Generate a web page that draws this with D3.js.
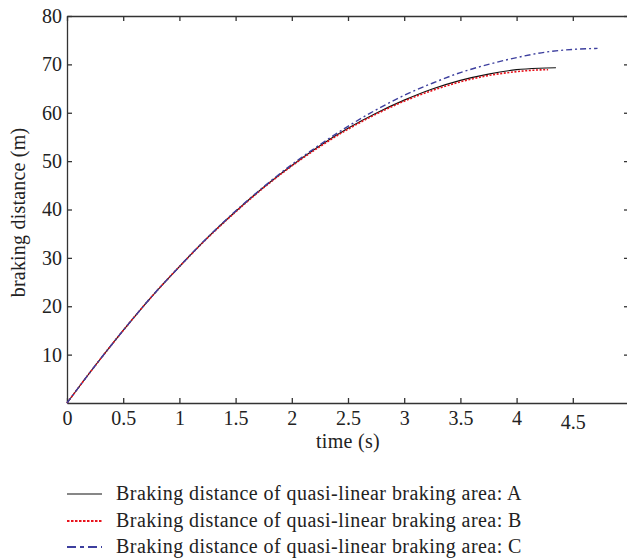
<!DOCTYPE html>
<html>
<head>
<meta charset="utf-8">
<script src="https://cdn.jsdelivr.net/npm/d3@7"></script>
<style>
  html, body { margin: 0; padding: 0; background: #fff; }
  svg { display: block; }
  text { font-family: "Liberation Serif", "DejaVu Serif", serif; fill: #222; }
</style>
</head>
<body>
<div id="chart"></div>
<script>
// ---- data ----
const timeA = [0, 0.25, 0.5, 0.75, 1, 1.25, 1.5, 1.75, 2, 2.25, 2.5, 2.75, 3, 3.25, 3.5, 3.75, 4, 4.2, 4.35];
const distA = [0, 7.7, 15.0, 21.9, 28.2, 34.2, 39.6, 44.6, 49.1, 53.2, 56.8, 59.9, 62.6, 64.9, 66.7, 68.0, 68.9, 69.2, 69.3];

const timeB = [0, 0.25, 0.5, 0.75, 1, 1.25, 1.5, 1.75, 2, 2.25, 2.5, 2.75, 3, 3.25, 3.5, 3.75, 4, 4.15, 4.28];
const distB = [0, 7.7, 15.0, 21.9, 28.2, 34.1, 39.5, 44.5, 49.0, 53.0, 56.6, 59.7, 62.4, 64.6, 66.4, 67.7, 68.5, 68.8, 68.9];

const timeC = [0, 0.25, 0.5, 0.75, 1, 1.25, 1.5, 1.75, 2, 2.25, 2.5, 2.75, 3, 3.25, 3.5, 3.75, 4, 4.25, 4.5, 4.72];
const distC = [0, 7.7, 15.0, 21.9, 28.2, 34.2, 39.7, 44.7, 49.3, 53.4, 57.2, 60.6, 63.6, 66.1, 68.3, 70.0, 71.4, 72.5, 73.1, 73.3];

const xTicks = [0, 0.5, 1, 1.5, 2, 2.5, 3, 3.5, 4, 4.5];
const yTicks = [10, 20, 30, 40, 50, 60, 70, 80];
const xDomain = [0, 5];
const yDomain = [0, 80];

const seriesNames = [
  "Braking distance of quasi-linear braking area: A",
  "Braking distance of quasi-linear braking area: B",
  "Braking distance of quasi-linear braking area: C"
];
const xLabel = "time (s)";
const yLabel = "braking distance (m)";

// ---- chart ----
const W = 627, H = 560;
const margin = { left: 67, top: 16, right: -2, bottom: 157 };
const svg = d3.select("#chart").append("svg").attr("width", W).attr("height", H);

const x = d3.scaleLinear().domain(xDomain).range([margin.left, W - margin.right]);
const y = d3.scaleLinear().domain(yDomain).range([H - margin.bottom, margin.top]);

const axisColor = "#333";
const tickLen = 5;
const FS = 20;

function styleAxis(g) {
  g.selectAll("path.domain").attr("stroke", axisColor).attr("stroke-width", 1.3);
  g.selectAll(".tick line").attr("stroke", axisColor).attr("stroke-width", 1.3);
  g.selectAll(".tick text").attr("font-size", FS).attr("fill", "#222")
    .attr("font-family", "Liberation Serif, DejaVu Serif, serif");
}

// bottom
const gx = svg.append("g").attr("transform", `translate(0,${y(0)})`)
  .call(d3.axisBottom(x).tickValues(xTicks).tickFormat(d3.format("")).tickSizeInner(-tickLen).tickSizeOuter(0).tickPadding(8));
styleAxis(gx);
gx.selectAll(".tick text").filter(d => d === 4.5).attr("dy", "0.9em");

// top
const gt = svg.append("g").attr("transform", `translate(0,${y(80)})`)
  .call(d3.axisTop(x).tickValues(xTicks).tickFormat("").tickSizeInner(-tickLen).tickSizeOuter(0));
styleAxis(gt);

// left
const gy = svg.append("g").attr("transform", `translate(${x(0)},0)`)
  .call(d3.axisLeft(y).tickValues(yTicks).tickFormat(d3.format("d")).tickSizeInner(-tickLen).tickSizeOuter(0).tickPadding(5));
styleAxis(gy);

// right
const gr = svg.append("g").attr("transform", `translate(${x(5)},0)`)
  .call(d3.axisRight(y).tickValues(yTicks).tickFormat("").tickSizeInner(-tickLen).tickSizeOuter(0));
styleAxis(gr);

// axis labels
svg.append("text").attr("x", (x(0) + x(5)) / 2).attr("y", 448)
  .attr("text-anchor", "middle").attr("font-size", FS).attr("letter-spacing", 0.3).text(xLabel);
svg.append("text").attr("transform", `translate(25,${(y(0) + y(80)) / 2 + 3}) rotate(-90)`)
  .attr("text-anchor", "middle").attr("font-size", FS).attr("letter-spacing", 0.2).text(yLabel);

// lines
const styles = [
  { color: "#111", width: 1.2, dash: null },
  { color: "#e8121c", width: 1.6, dash: "2,1.6" },
  { color: "#3d3f9e", width: 1.4, dash: "6,3,2,3" }
];
const data = [
  timeA.map((t, i) => [t, distA[i]]),
  timeB.map((t, i) => [t, distB[i]]),
  timeC.map((t, i) => [t, distC[i]])
];
const line = d3.line().x(d => x(d[0])).y(d => y(d[1])).curve(d3.curveMonotoneX);

data.forEach((d, i) => {
  svg.append("path").datum(d).attr("d", line)
    .attr("fill", "none").attr("stroke", styles[i].color)
    .attr("stroke-width", styles[i].width)
    .attr("stroke-dasharray", styles[i].dash);
});

// legend
const legY = [494, 521, 547];
seriesNames.forEach((name, i) => {
  svg.append("line").attr("x1", 67).attr("x2", 102).attr("y1", legY[i]).attr("y2", legY[i])
    .attr("stroke", styles[i].color).attr("stroke-width", i === 0 ? 1.2 : 2.2)
    .attr("stroke-dasharray", i === 1 ? "2.5,1.5" : (i === 2 ? "9,4,4,4" : null));
  svg.append("text").attr("x", 116).attr("y", legY[i]).attr("dy", "0.3em")
    .attr("font-size", FS).attr("letter-spacing", 0.45).text(name);
});
</script>
</body>
</html>
